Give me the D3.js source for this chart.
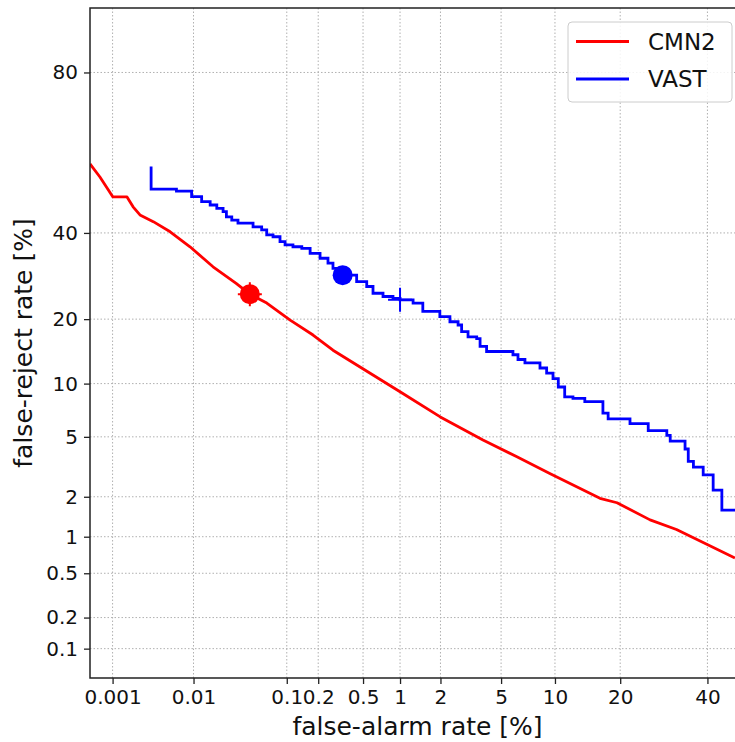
<!DOCTYPE html>
<html>
<head>
<meta charset="utf-8">
<script src="https://cdn.jsdelivr.net/npm/d3@7"></script>
<style>
  body { margin: 0; background: #fff; }
  svg { font-family: "DejaVu Sans", sans-serif; }
</style>
</head>
<body>
<div id="chart"></div>
<script>
"use strict"

// all rates in percent
let xTicks = [0.001, 0.01, 0.1, 0.2, 0.5, 1, 2, 5, 10, 20, 40];
let xTickLabels = ["0.001", "0.01", "0.1", "0.2", "0.5", "1", "2", "5", "10", "20", "40"];
let yTicks = [0.1, 0.2, 0.5, 1, 2, 5, 10, 20, 40, 80];
let yTickLabels = ["0.1", "0.2", "0.5", "1", "2", "5", "10", "20", "40", "80"];
let xLimits = [0.0005, 50];
let yLimits = [0.05, 90];

let seriesNames = ["CMN2", "VAST"];
let seriesColors = ["#ff0000", "#0000ff"];

// CMN2 curve
let cmn2FA = [0.0005, 0.00068, 0.00101, 0.00154, 0.00184, 0.00225, 0.0033, 0.0053, 0.0091, 0.0167,
              0.030, 0.042, 0.063, 0.108, 0.179, 0.273, 1.0, 1.98, 3.86, 6.2,
              9.4, 16.4, 19.4, 26.1, 32.2, 47.3];
let cmn2FR = [58.6, 55.1, 49.7, 49.7, 47.0, 44.8, 43.0, 40.3, 36.4, 31.4,
              27.5, 25.1, 23.2, 19.8, 17.1, 14.6, 9.06, 6.59, 4.78, 3.75,
              2.91, 1.95, 1.81, 1.35, 1.14, 0.673];

// VAST curve (staircase, each point starts a new level)
let vastFA = [0.0031, 0.0031, 0.0063, 0.0095, 0.0124, 0.0155, 0.0184, 0.0216, 0.0235, 0.0269,
              0.0314, 0.0454, 0.0558, 0.0629, 0.0729, 0.0857, 0.0962, 0.115, 0.140, 0.168,
              0.208, 0.246, 0.273, 0.333, 0.441, 0.537, 0.606, 0.732, 0.880, 1.0,
              1.26, 1.49, 1.98, 2.33, 2.65, 2.80, 3.09, 3.52, 3.70, 4.07,
              5.88, 6.29, 6.89, 8.34, 9.05, 9.77, 10.4, 11.2, 12.3, 14.0,
              16.9, 17.8, 21.9, 25.7, 29.9, 30.7, 34.3, 35.1, 36.4, 38.9,
              41.5, 43.8, 50];
let vastFR = [57.9, 51.8, 51.3, 49.8, 48.4, 47.5, 46.6, 45.7, 44.3, 43.4,
              42.6, 41.6, 40.8, 39.5, 39.0, 37.7, 36.9, 36.4, 36.0, 34.7,
              33.5, 32.3, 31.0, 29.4, 27.9, 26.8, 25.3, 24.6, 24.2, 23.9,
              23.2, 21.5, 20.5, 19.5, 18.9, 17.7, 16.8, 16.5, 15.2, 14.4,
              13.9, 13.2, 12.7, 12.0, 11.3, 10.6, 9.6, 8.5, 8.35, 8.0,
              6.9, 6.4, 6.0, 5.45, 5.1, 4.7, 4.2, 3.5, 3.2, 2.84,
              2.23, 1.6, 1.6];

// operating points: circle and plus per system
let circleFA = [0.042, 0.333];
let circleFR = [25.1, 29.4];
let plusFA = [0.042, 1.0];
let plusFR = [25.1, 23.9];

// inverse normal cdf (Acklam)
function probit(p){
    let a = [-3.969683028665376e+01, 2.209460984245205e+02, -2.759285104469687e+02, 1.383577518672690e+02, -3.066479806614716e+01, 2.506628277459239e+00];
    let b = [-5.447609879822406e+01, 1.615858368580409e+02, -1.556989798598866e+02, 6.680131188771972e+01, -1.328068155288572e+01];
    let c = [-7.784894002430293e-03, -3.223964580411365e-01, -2.400758277161838e+00, -2.549671254987341e+00, 4.374664141464968e+00, 2.938163982698783e+00];
    let d = [7.784695709041462e-03, 3.224671290700398e-01, 2.445134137142996e+00, 3.754408661907416e+00];
    let plow = 0.02425, q, r;
    if(p < plow){
        q = Math.sqrt(-2 * Math.log(p));
        return (((((c[0]*q+c[1])*q+c[2])*q+c[3])*q+c[4])*q+c[5]) / ((((d[0]*q+d[1])*q+d[2])*q+d[3])*q+1);
    }else if(p <= 1 - plow){
        q = p - 0.5; r = q * q;
        return (((((a[0]*r+a[1])*r+a[2])*r+a[3])*r+a[4])*r+a[5])*q / (((((b[0]*r+b[1])*r+b[2])*r+b[3])*r+b[4])*r+1);
    }
    q = Math.sqrt(-2 * Math.log(1 - p));
    return -(((((c[0]*q+c[1])*q+c[2])*q+c[3])*q+c[4])*q+c[5]) / ((((d[0]*q+d[1])*q+d[2])*q+d[3])*q+1);
}
let pct = function(v){ return probit(v / 100); };

let width = 735, height = 742;
let margin = {left: 90, top: 8, right: -10, bottom: 64};

let svg = d3.select("#chart").append("svg")
    .attr("width", width)
    .attr("height", height);

let x = d3.scaleLinear()
    .domain([pct(xLimits[0]), pct(xLimits[1])])
    .range([margin.left, width - margin.right]);
let y = d3.scaleLinear()
    .domain([pct(yLimits[0]), pct(yLimits[1])])
    .range([height - margin.bottom, margin.top]);

let plotW = x.range()[1] - x.range()[0];
let plotH = y.range()[0] - y.range()[1];

svg.append("defs").append("clipPath").attr("id", "plotClip")
    .append("rect")
    .attr("x", margin.left).attr("y", margin.top)
    .attr("width", plotW).attr("height", plotH);

// grid
let grid = svg.append("g").attr("class", "grid");
grid.selectAll(".vgrid").data(xTicks).enter().append("line")
    .attr("x1", d => x(pct(d))).attr("x2", d => x(pct(d)))
    .attr("y1", margin.top).attr("y2", height - margin.bottom)
    .style("stroke", "#b0b0b0").style("stroke-width", 1).style("stroke-dasharray", "1.5,2");
grid.selectAll(".hgrid").data(yTicks).enter().append("line")
    .attr("x1", margin.left).attr("x2", width)
    .attr("y1", d => y(pct(d))).attr("y2", d => y(pct(d)))
    .style("stroke", "#b0b0b0").style("stroke-width", 1).style("stroke-dasharray", "1.5,2");

// axes
let xAxis = d3.axisBottom(x)
    .tickValues(xTicks.map(pct))
    .tickFormat((d, i) => xTickLabels[i])
    .tickSize(6).tickPadding(6);
let yAxis = d3.axisLeft(y)
    .tickValues(yTicks.map(pct))
    .tickFormat((d, i) => yTickLabels[i])
    .tickSize(6).tickPadding(6);

let gx = svg.append("g")
    .attr("transform", "translate(0," + (height - margin.bottom) + ")")
    .call(xAxis);
let gy = svg.append("g")
    .attr("transform", "translate(" + margin.left + ",0)")
    .call(yAxis);
[gx, gy].forEach(function(g){
    g.select(".domain").remove();
    g.selectAll("line").style("stroke", "#222").style("stroke-width", 1.3);
    g.selectAll("text").style("font-size", "20px").style("fill", "#111")
        .style("font-family", "'DejaVu Sans', sans-serif");
});

// curves
let plot = svg.append("g").attr("clip-path", "url(#plotClip)");

let cmn2Line = d3.line()
    .x(d => x(pct(d[0])))
    .y(d => y(pct(d[1])));
let vastLine = d3.line()
    .x(d => x(pct(d[0])))
    .y(d => y(pct(d[1])))
    .curve(d3.curveStepAfter);

plot.append("path")
    .datum(cmn2FA.map((v, i) => [v, cmn2FR[i]]))
    .attr("d", cmn2Line)
    .style("fill", "none").style("stroke", seriesColors[0]).style("stroke-width", 2.8)
    .style("stroke-linejoin", "round");
plot.append("path")
    .datum(vastFA.map((v, i) => [v, vastFR[i]]))
    .attr("d", vastLine)
    .style("fill", "none").style("stroke", seriesColors[1]).style("stroke-width", 2.8);

// markers
for(let j = 0; j < seriesNames.length; j++){
    let px = x(pct(plusFA[j])), py = y(pct(plusFR[j]));
    plot.append("path")
        .attr("d", "M" + (px - 12) + "," + py + "H" + (px + 12) + "M" + px + "," + (py - 12) + "V" + (py + 12))
        .style("stroke", seriesColors[j]).style("stroke-width", 2);
    plot.append("circle")
        .attr("cx", x(pct(circleFA[j])))
        .attr("cy", y(pct(circleFR[j])))
        .attr("r", 10)
        .style("fill", seriesColors[j]);
}

// frame: left, bottom, top spines (right one is out of view)
svg.append("path")
    .attr("d", "M" + width + "," + margin.top + "H" + margin.left + "V" + (height - margin.bottom) + "H" + width)
    .style("fill", "none").style("stroke", "#222").style("stroke-width", 1.5);

// axis labels
svg.append("text")
    .attr("x", margin.left + plotW / 2)
    .attr("y", 735)
    .attr("text-anchor", "middle")
    .style("font-size", "25px").style("fill", "#111")
    .text("false-alarm rate [%]");
svg.append("text")
    .attr("transform", "translate(32," + (margin.top + plotH / 2) + ") rotate(-90)")
    .attr("text-anchor", "middle")
    .style("font-size", "25px").style("fill", "#111")
    .text("false-reject rate [%]");

// legend
let legend = svg.append("g");
legend.append("rect")
    .attr("x", 568).attr("y", 22)
    .attr("width", 164).attr("height", 80)
    .attr("rx", 4)
    .style("fill", "#fff").style("fill-opacity", 0.85)
    .style("stroke", "#cccccc").style("stroke-width", 1);
for(let j = 0; j < seriesNames.length; j++){
    let ly = 41.5 + 37.5 * j;
    legend.append("line")
        .attr("x1", 576).attr("x2", 629)
        .attr("y1", ly).attr("y2", ly)
        .style("stroke", seriesColors[j]).style("stroke-width", 2.8);
    legend.append("text")
        .attr("x", 648).attr("y", ly)
        .attr("dy", "0.36em")
        .style("font-size", "23px").style("fill", "#111")
        .text(seriesNames[j]);
}
</script>
</body>
</html>
